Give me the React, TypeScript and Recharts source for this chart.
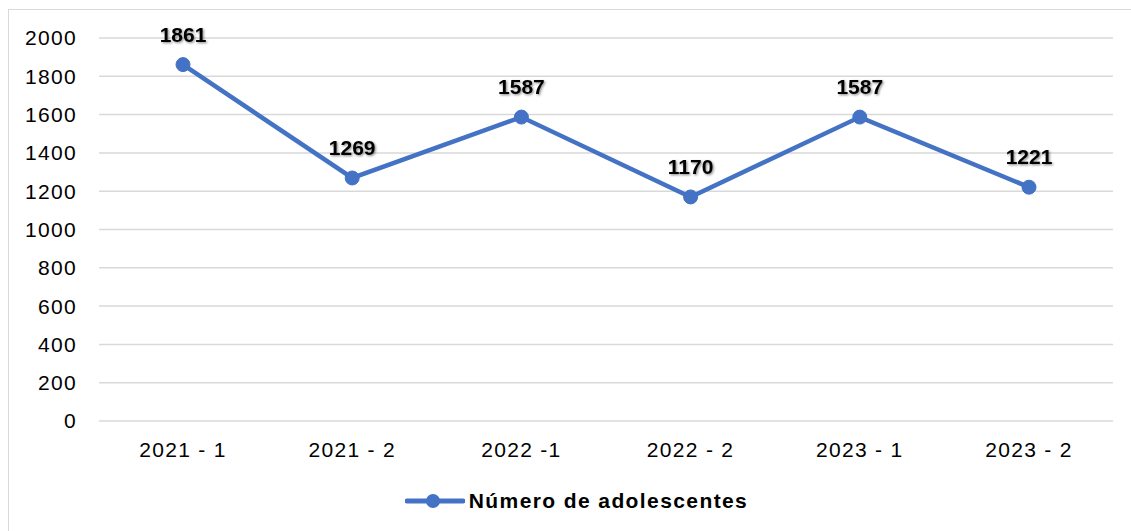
import { LineChart, Line, XAxis, YAxis, CartesianGrid, Legend, LabelList } from "recharts";

const periods = ["2021 - 1", "2021 - 2", "2022 -1", "2022 - 2", "2023 - 1", "2023 - 2"];
const adolescentes = [1861, 1269, 1587, 1170, 1587, 1221];
const yTicks = [0, 200, 400, 600, 800, 1000, 1200, 1400, 1600, 1800, 2000];

const data = periods.map((p, i) => ({ period: p, value: adolescentes[i] }));

const BLUE = "#4472C4";
const FONT = "'Liberation Sans', Arial, sans-serif";

const ValueLabel = (props: any) => {
  const { x, y, value } = props;
  return (
    <text x={x} y={y - 23} textAnchor="middle" fontFamily={FONT} fontSize={21} fontWeight={700} fill="#000" filter="url(#labelShadow)">
      {value}
    </text>
  );
};

const LegendContent = () => (
  <div style={{ height: 20, paddingBottom: 20, display: "flex", justifyContent: "center", alignItems: "center", marginLeft: 40 }}>
    <svg width={60} height={20} style={{ marginRight: 4 }}>
      <line x1={2} y1={10} x2={58} y2={10} stroke={BLUE} strokeWidth={5} strokeLinecap="round" />
      <circle cx={28} cy={10} r={7} fill={BLUE} />
    </svg>
    <span style={{ fontFamily: FONT, fontSize: 21, fontWeight: 700, color: "#000", letterSpacing: 1.4 }}>Número de adolescentes</span>
  </div>
);

export default function App() {
  return (
    <div style={{ position: "fixed", left: 0, top: 0, width: 1131, height: 531, background: "#fff" }}>
      <div style={{ position: "absolute", left: 8, top: 9, width: 1140, height: 540, border: "1.5px solid #D9D9D9", boxSizing: "border-box" }} />
      <LineChart width={1131} height={531} data={data} margin={{ top: 38, right: 18, bottom: 0, left: 0 }}>
        <defs>
          <filter id="labelShadow" x="-20%" y="-30%" width="150%" height="170%">
            <feDropShadow dx={1.2} dy={1.2} stdDeviation={1} floodColor="#000" floodOpacity={0.45} />
          </filter>
        </defs>
        <CartesianGrid vertical={false} stroke="#D9D9D9" strokeWidth={1.5} />
        <XAxis
          dataKey="period"
          axisLine={false}
          tickLine={false}
          tickSize={6}
          tickMargin={15}
          height={70}
          padding={{ left: 84, right: 84 }}
          tick={{ fontFamily: FONT, fontSize: 21, fill: "#000", letterSpacing: 1.3 }}
        />
        <YAxis
          domain={[0, 2000]}
          ticks={yTicks}
          interval={0}
          width={99}
          axisLine={false}
          tickLine={false}
          tickSize={6}
          tickMargin={16}
          tick={{ fontFamily: FONT, fontSize: 21, fill: "#000", letterSpacing: 1.3 }}
        />
        <Legend verticalAlign="bottom" content={<LegendContent />} />
        <Line
          type="linear"
          dataKey="value"
          name="Número de adolescentes"
          stroke={BLUE}
          strokeWidth={4.5}
          dot={{ r: 7, fill: BLUE, stroke: BLUE, strokeWidth: 1 }}
          activeDot={false}
          isAnimationActive={false}
        >
          <LabelList dataKey="value" content={<ValueLabel />} />
        </Line>
      </LineChart>
    </div>
  );
}
